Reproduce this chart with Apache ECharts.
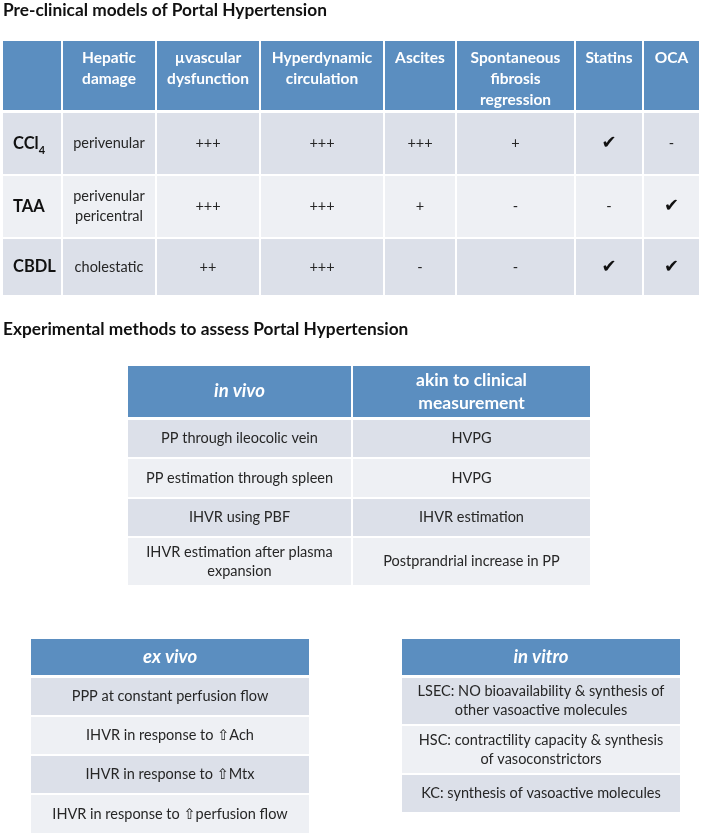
<!DOCTYPE html>
<html><head><meta charset="utf-8">
<script src="https://cdn.jsdelivr.net/npm/echarts@6/dist/echarts.min.js"></script>
<style>html,body{margin:0;padding:0;background:#fff}#c{width:702px;height:835px}</style>
</head><body><div id="c"></div>
<script>
// ---------- data ----------
const title1 = 'Pre-clinical models of Portal Hypertension';
const title2 = 'Experimental methods to assess Portal Hypertension';

const modelHeaders = ['', 'Hepatic\ndamage', 'µvascular\ndysfunction', 'Hyperdynamic\ncirculation', 'Ascites', 'Spontaneous\nfibrosis\nregression', 'Statins', 'OCA'];
const models = ['CCl4', 'TAA', 'CBDL'];
const hepaticDamage = ['perivenular', 'perivenular\npericentral', 'cholestatic'];
const microvascularDysfunction = ['+++', '+++', '++'];
const hyperdynamicCirculation = ['+++', '+++', '+++'];
const ascites = ['+++', '+', '-'];
const fibrosisRegression = ['+', '-', '-'];
const statins = ['✔', '-', '✔'];
const oca = ['-', '✔', '✔'];

const inVivoHeaders = ['in vivo', 'akin to clinical\nmeasurement'];
const inVivoMethods = ['PP through ileocolic vein', 'PP estimation through spleen', 'IHVR using PBF', 'IHVR estimation after plasma\nexpansion'];
const clinicalEquivalents = ['HVPG', 'HVPG', 'IHVR estimation', 'Postprandrial increase in PP'];

const exVivoHeader = 'ex vivo';
const exVivoMethods = ['PPP at constant perfusion flow', 'IHVR in response to ⇧Ach', 'IHVR in response to ⇧Mtx', 'IHVR in response to ⇧perfusion flow'];

const inVitroHeader = 'in vitro';
const inVitroMethods = ['LSEC: NO bioavailability & synthesis of\nother vasoactive molecules', 'HSC: contractility capacity & synthesis\nof vasoconstrictors', 'KC: synthesis of vasoactive molecules'];

// ---------- style / layout ----------
const FONT = 'Lato, "Open Sans", "DejaVu Sans", sans-serif';
const HEAD = '#5b8ec0', DARK = '#dce0e9', LIGHT = '#eef0f4', INK = '#262626';
const BODY = 14.5;

function rowFill(r) { return r === 0 ? HEAD : (r % 2 === 1 ? DARK : LIGHT); }

// table 1
const cells1 = [];
modelHeaders.forEach((h, c) => cells1.push({c, r: 0, text: h, fill: HEAD, color: '#fff', size: 15.5, weight: 'bold', lh: 21, va: 'top', padTop: 6}));
const t1Cols = [hepaticDamage, microvascularDysfunction, hyperdynamicCirculation, ascites, fibrosisRegression, statins, oca];
models.forEach((m, i) => {
  const r = i + 1;
  const mm = m.match(/^(.*?)(\d+)$/);
  if (mm) {
    cells1.push({c: 0, r, text: '{b|' + mm[1] + '}{s|' + mm[2] + '}', fill: rowFill(r), color: INK, size: 16.5, weight: 'bold', align: 'left', padLeft: 10,
      rich: {b: {fontSize: 16.5, fontWeight: 'bold', fontFamily: FONT, fill: '#111', lineHeight: 24},
             s: {fontSize: 11, fontWeight: 'bold', fontFamily: FONT, fill: '#111', lineHeight: 12, verticalAlign: 'bottom'}}});
  } else {
    cells1.push({c: 0, r, text: m, fill: rowFill(r), color: '#111', size: 16.5, weight: 'bold', align: 'left', padLeft: 10});
  }
  t1Cols.forEach((arr, k) => {
    const v = arr[i];
    const isMark = v === '✔';
    cells1.push({c: k + 1, r, text: v, fill: rowFill(r), color: isMark ? '#111' : INK, size: isMark ? 18 : BODY, lh: 20,
      family: isMark ? '"DejaVu Sans", sans-serif' : null, weight: isMark ? 'bold' : 'normal'});
  });
});

// table 2
const cells2 = [];
cells2.push({c: 0, r: 0, text: inVivoHeaders[0], fill: HEAD, color: '#fff', size: 18.5, weight: 'bold', italic: true});
cells2.push({c: 1, r: 0, text: inVivoHeaders[1], fill: HEAD, color: '#fff', size: 17.5, weight: 'bold', lh: 23});
inVivoMethods.forEach((m, i) => {
  cells2.push({c: 0, r: i + 1, text: m, fill: rowFill(i + 1), color: INK, size: BODY, lh: 19});
  cells2.push({c: 1, r: i + 1, text: clinicalEquivalents[i], fill: rowFill(i + 1), color: INK, size: BODY, lh: 19});
});

// table 3
const cells3 = [{c: 0, r: 0, text: exVivoHeader, fill: HEAD, color: '#fff', size: 18.5, weight: 'bold', italic: true}];
exVivoMethods.forEach((m, i) => cells3.push({c: 0, r: i + 1, text: m, fill: rowFill(i + 1), color: INK, size: BODY, lh: 19}));

// table 4
const cells4 = [{c: 0, r: 0, text: inVitroHeader, fill: HEAD, color: '#fff', size: 18.5, weight: 'bold', italic: true}];
inVitroMethods.forEach((m, i) => cells4.push({c: 0, r: i + 1, text: m, fill: rowFill(i + 1), color: INK, size: BODY, lh: 19}));

const tables = [
  {box: {left: 2, top: 40, width: 698, height: 256}, cols: [0, 60, 154, 258, 382, 454, 573, 641, 698], rows: [0, 72, 135, 198, 256], cells: cells1},
  {box: {left: 127, top: 365, width: 464, height: 221}, cols: [0, 225, 464], rows: [0, 54, 93, 133, 172, 221], cells: cells2},
  {box: {left: 30, top: 638, width: 280, height: 196}, cols: [0, 280], rows: [0, 39, 78, 117, 156, 196], cells: cells3},
  {box: {left: 401, top: 638, width: 280, height: 175}, cols: [0, 280], rows: [0, 39, 87, 136, 175], cells: cells4}
];

function makeRender(t) {
  return function (params, api) {
    const cell = t.cells[params.dataIndex];
    const a = api.coord([t.cols[cell.c], t.rows[cell.r]]);
    const b = api.coord([t.cols[cell.c + 1], t.rows[cell.r + 1]]);
    const x0 = a[0] + 1, y0 = a[1] + 1, x1 = b[0] - 1, y1 = b[1] - (cell.r === 0 ? 2 : 1);
    const children = [{type: 'rect', shape: {x: x0, y: y0, width: x1 - x0, height: y1 - y0}, style: {fill: cell.fill}}];
    if (cell.text) {
      let tx = (x0 + x1) / 2, ty = (y0 + y1) / 2, align = 'center', va = 'middle';
      if (cell.align === 'left') { tx = x0 + cell.padLeft; align = 'left'; }
      if (cell.va === 'top') { ty = y0 + cell.padTop; va = 'top'; }
      const style = {
        text: cell.text, fill: cell.color, fontFamily: cell.family || FONT, fontSize: cell.size,
        fontWeight: cell.weight || 'normal', fontStyle: cell.italic ? 'italic' : 'normal',
        align: align, verticalAlign: va, textAlign: align, textVerticalAlign: va
      };
      if (cell.lh) style.lineHeight = cell.lh;
      if (cell.rich) style.rich = cell.rich;
      children.push({type: 'text', x: tx, y: ty, style: style});
    }
    return {type: 'group', children: children};
  };
}

const option = {
  backgroundColor: '#fff',
  animation: false,
  title: [
    {text: title1, left: 3, top: 2, padding: 0, textStyle: {fontFamily: FONT, fontWeight: 'bold', fontSize: 17.3, color: '#111'}},
    {text: title2, left: 3, top: 321, padding: 0, textStyle: {fontFamily: FONT, fontWeight: 'bold', fontSize: 17.3, color: '#111'}}
  ],
  grid: tables.map(t => Object.assign({containLabel: false}, t.box)),
  xAxis: tables.map((t, i) => ({type: 'value', gridIndex: i, min: 0, max: t.cols[t.cols.length - 1], show: false})),
  yAxis: tables.map((t, i) => ({type: 'value', gridIndex: i, min: 0, max: t.rows[t.rows.length - 1], inverse: true, show: false})),
  series: tables.map((t, i) => ({
    type: 'custom', coordinateSystem: 'cartesian2d', xAxisIndex: i, yAxisIndex: i, clip: false,
    renderItem: makeRender(t),
    data: t.cells.map(c => [c.c, c.r])
  }))
};

const chart = echarts.init(document.getElementById('c'));
chart.setOption(option);
</script>
</body></html>
